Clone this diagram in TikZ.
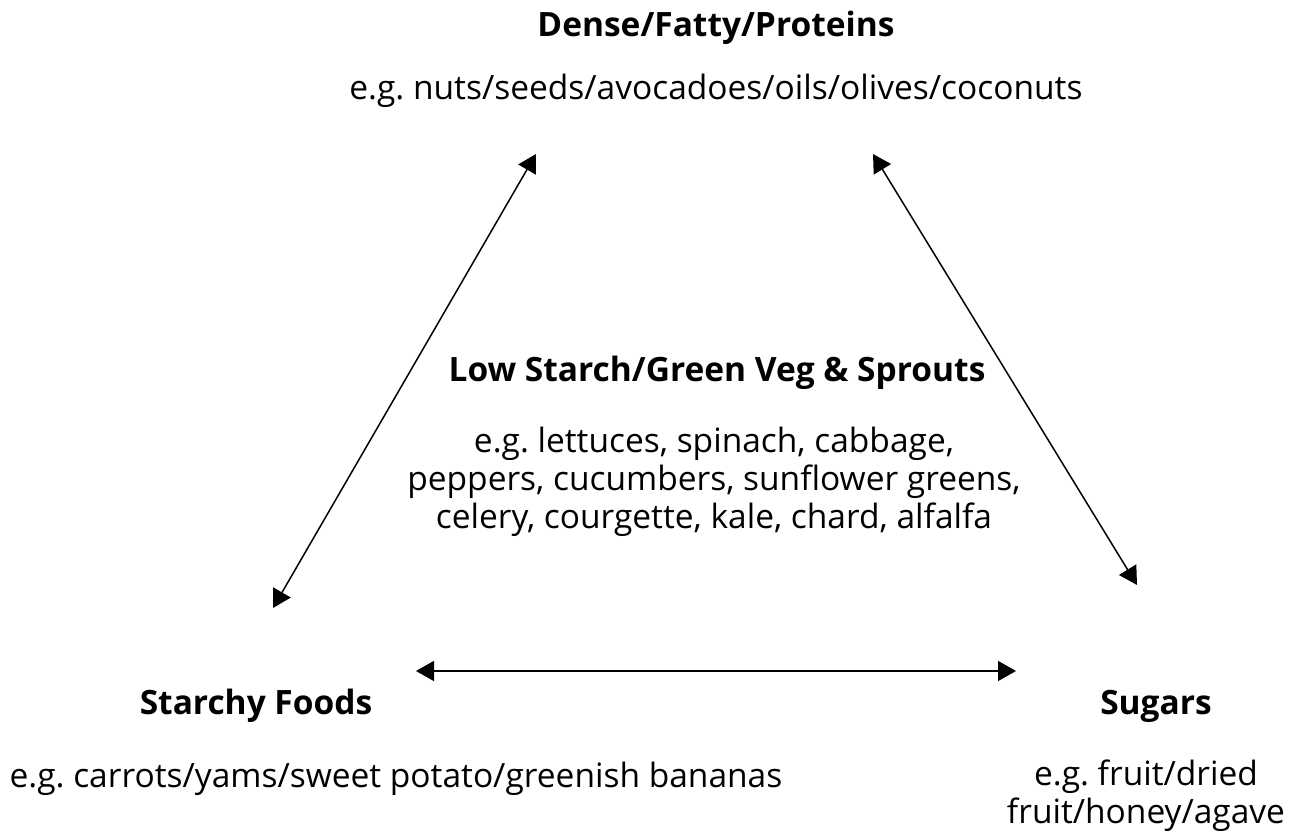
\documentclass[tikz,border=0pt]{standalone}
\usepackage{fontspec}
\setmainfont{Open Sans}
\usetikzlibrary{arrows.meta}
\frenchspacing

\tikzset{
  grouphead/.style={font=\fontsize{33.5}{38}\selectfont\bfseries, inner sep=0pt, anchor=base},
  grouptext/.style={font=\fontsize{33.5}{38}\selectfont, inner sep=0pt, anchor=base, align=center},
  swap/.style={{Triangle[length=18pt,width=20pt]}-{Triangle[length=18pt,width=20pt]}, line width=1.5pt}
}

\begin{document}
\begin{tikzpicture}[x=1pt,y=1pt]
\useasboundingbox (0,0) rectangle (1293,833);
% group labels
\node[grouphead] (dense) at (716,796) {Dense/Fatty/Proteins};
\node[grouptext] (densex) at (716,733) {e.g. nuts/seeds/avocadoes/oils/olives/coconuts};
\node[grouphead] (green) at (717,451) {Low Starch/Green Veg \& Sprouts};
\node[grouptext] (greenx) at (714,304) {e.g. lettuces, spinach, cabbage,\\peppers, cucumbers, sunflower greens,\\celery, courgette, kale, chard, alfalfa};
\node[grouphead] (starch) at (256,118) {Starchy Foods};
\node[grouptext] (starchx) at (396,46) {e.g. carrots/yams/sweet potato/greenish bananas};
\node[grouphead] (sugar) at (1156,118) {Sugars};
\node[grouptext] (sugarx) at (1146,10) {e.g. fruit/dried\\fruit/honey/agave};
% arrow ends
\coordinate (dl) at (536,679);
\coordinate (dr) at (873,679);
\coordinate (sl) at (273,225);
\coordinate (sr) at (416,162);
\coordinate (ul) at (1016,162);
\coordinate (ur) at (1137,248);
\draw[swap] (sl) -- (dl);
\draw[swap] (dr) -- (ur);
\draw[swap] (sr) -- (ul);
\end{tikzpicture}
\end{document}
